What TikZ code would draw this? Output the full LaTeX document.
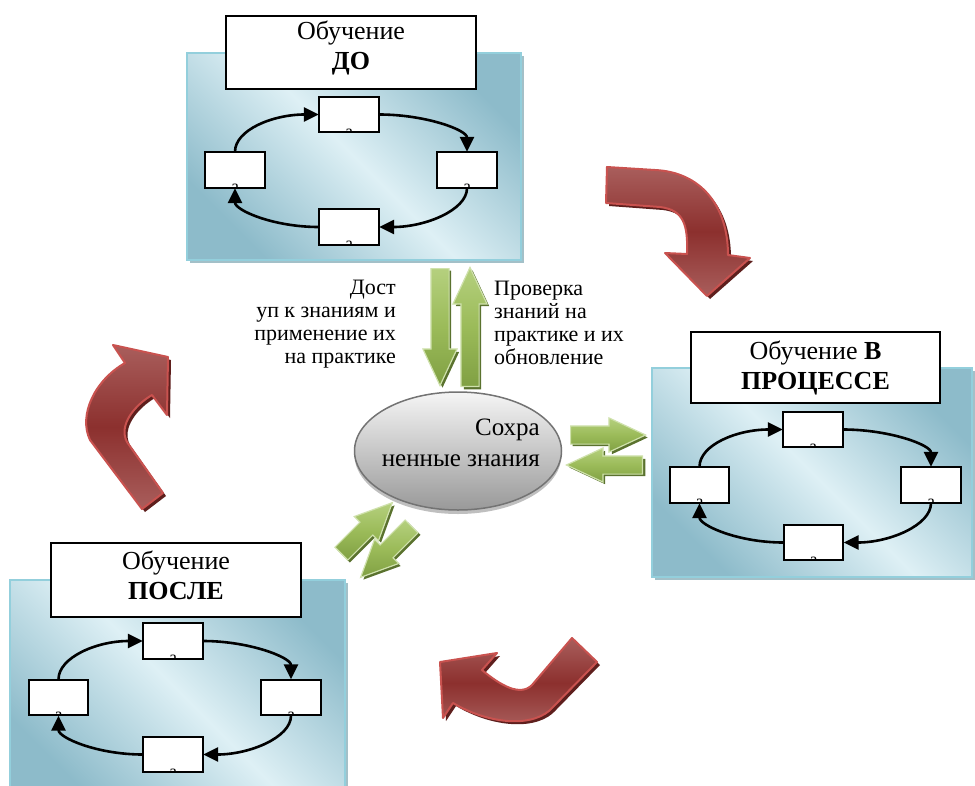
\documentclass[tikz,border=0pt]{standalone}
\usepackage{fontspec}
\setmainfont{Liberation Serif}
\usetikzlibrary{shapes.geometric,shapes.arrows,arrows.meta,calc,shadows}
\definecolor{pdark}{HTML}{8DBBCA}
\definecolor{plight}{HTML}{DEF0F5}
\definecolor{pborder}{HTML}{93CFDC}
\definecolor{pshadow}{HTML}{A3C0C8}
\definecolor{rdark}{HTML}{8C302E}
\definecolor{rlight}{HTML}{A95E5C}
\definecolor{rborder}{HTML}{C9524F}
\definecolor{rshadow}{HTML}{5E1F1D}
\definecolor{gA}{HTML}{B5D07E}
\definecolor{gB}{HTML}{80A043}
\definecolor{gC}{HTML}{9BBB59}
\definecolor{gborder}{HTML}{CFE1AC}
\definecolor{gshadow}{HTML}{5A722E}
\newcommand\mypanel[4]{%
  \fill[pshadow] (#1+3,#2+3) rectangle (#3+3,#4+3);
  \shade[top color=pdark,bottom color=pdark,middle color=plight,shading angle=-45] (#1,#2) rectangle (#3,#4);
  \draw[pborder,line width=2.5] (#1,#2) rectangle (#3,#4);
}
\newcommand\abox[1]{%
  \begin{scope}
    \clip (#1.south west) rectangle (#1.north east);
    \node[font=\fontsize{18}{20}\selectfont,inner sep=0,anchor=north] (#1a) at ($(#1.south)+(0,-4)$) {а};
  \end{scope}
  \draw[line width=1.3] (#1.south west) rectangle (#1.north east);
}
\newcommand\mycycle[1]{%
  \abox{#1t}\abox{#1l}\abox{#1r}\abox{#1b}
  \draw[cyc] (#1l.north) .. controls +(0,-22) and +(-46,0) .. (#1t.west);
  \draw[cyc] (#1t.east) .. controls +(46,0) and +(0,-22) .. (#1r.north);
  \draw[cyc] (#1r.south) .. controls +(0,22) and +(46,0) .. (#1b.east);
  \draw[cyc] (#1b.west) .. controls +(-46,0) and +(0,22) .. (#1l.south);
}
\newcommand\redarrow[1]{%
  \fill[rshadow,shift={(3,3)}] #1;
  \shadedraw[top color=rlight,bottom color=rlight,middle color=rdark,draw=rborder,line width=2,line join=round] #1;
}
% green block arrow: name, tail x, tail y, length, angle
\newcommand\garr[5]{%
  \node[gshape=#4,rotate=#5,fill=gshadow] (#1s) at (#2+2.5,#3+2.5) {};
  \node[gshape=#4,rotate=#5,draw=gborder,line width=1.2,top color=gA,bottom color=gB,middle color=gC] (#1) at (#2,#3) {};
}
\begin{document}
\begin{tikzpicture}[x=1pt,y=-1pt,
  sbox/.style={draw,fill=white,line width=1.3,minimum width=59pt,minimum height=35pt,inner sep=0},
  tbox/.style={draw,fill=white,line width=1.5,inner sep=0},
  ttext/.style={align=center,font=\fontsize{26}{30}\selectfont,inner sep=0},
  cyc/.style={line width=2.6,-{Triangle[length=15pt,width=14pt]}},
  gshape/.style={single arrow,inner xsep=0pt,inner ysep=8.5pt,single arrow head extend=8pt,
    single arrow tip angle=50,minimum height=#1,anchor=tail},
  sidetext/.style={font=\fontsize{22}{23}\selectfont,inner sep=0}]
\useasboundingbox (0,0) rectangle (975,785);

% ---------- panel ДО ----------
\mypanel{187}{53}{521}{260}
\node[tbox,minimum width=250pt,minimum height=73pt] (tdo) at (351,52.5) {};
\node[ttext] (tdot) at (351,47.5) {Обучение\\\textbf{ДО}};
\node[sbox] (dot) at (349,114.5) {};
\node[sbox] (dol) at (235,170) {};
\node[sbox] (dor) at (467,170) {};
\node[sbox] (dob) at (349,227) {};
\mycycle{do}

% ---------- panel В ПРОЦЕССЕ ----------
\mypanel{652}{368}{972}{577}
\node[tbox,minimum width=249pt,minimum height=71pt] (tpr) at (815.5,367.5) {};
\node[ttext] (tprt) at (815.5,367.5) {Обучение \textbf{В}\\\textbf{ПРОЦЕССЕ}};
\node[sbox] (prt) at (813,429.5) {};
\node[sbox] (prl) at (699.5,485) {};
\node[sbox] (prr) at (931,485) {};
\node[sbox] (prb) at (813.5,542.5) {};
\mycycle{pr}

% ---------- panel ПОСЛЕ ----------
\mypanel{10}{580}{345}{800}
\node[tbox,minimum width=250pt,minimum height=74pt] (tpo) at (176,580) {};
\node[ttext] (tpot) at (176,575) {Обучение\\\textbf{ПОСЛЕ}};
\node[sbox] (pot) at (173,641) {};
\node[sbox] (pol) at (58.5,697.5) {};
\node[sbox] (por) at (291,697.5) {};
\node[sbox] (pob) at (173,754.5) {};
\mycycle{po}

% ---------- ellipse ----------
\node[ellipse,minimum width=207pt,minimum height=118pt,draw=black!55,line width=1.5,
  top color=white!96!black,bottom color=black!40,
  drop shadow={shadow xshift=0pt,shadow yshift=-4pt,fill=black!25,opacity=1}] (kn) at (458,451) {};
\node[align=right,anchor=east,font=\fontsize{25}{31}\selectfont,inner sep=0] (knt) at (540,443) {Сохра\\ненные знания};

% ---------- green arrows ----------
\garr{gdown}{440}{268}{117pt}{-90}
\garr{gup}{470}{387}{119pt}{90}
\garr{gright}{570}{435}{75pt}{0}
\garr{gleft}{643}{465}{76pt}{180}
\garr{gur}{341}{554}{72pt}{45}
\garr{gdl}{412}{526}{72pt}{225}

% ---------- side texts ----------
\node[sidetext,align=right,anchor=east] (lt) at (396,324) {Дост\\уп к знаниям и\\применение их\\на практике};
\node[sidetext,align=left,anchor=west] (rt) at (494,323) {Проверка\\знаний на\\практике и их\\обновление};

% ---------- red arrows ----------
\redarrow{(607,167) -- (655,170) .. controls (700,172) and (728,205) .. (728,255) -- (750,258) -- (707,296) -- (665,253) -- (687,254) .. controls (688,225) and (684,210) .. (660,207) -- (606,203) -- cycle}
\redarrow{(113,345) -- (168,357) -- (167,415) -- (152,395) .. controls (135,405) and (118,425) .. (127,442) -- (163,493) -- (142,509) -- (90,440) .. controls (78,415) and (95,380) .. (125,363) -- cycle}
\redarrow{(497,653) -- (482,670) .. controls (500,685) and (520,697) .. (532,685) -- (572,638) -- (597,662) -- (553,707) .. controls (535,728) and (490,725) .. (453,703) -- (443,718) -- (440,662) -- cycle}
\end{tikzpicture}
\end{document}
